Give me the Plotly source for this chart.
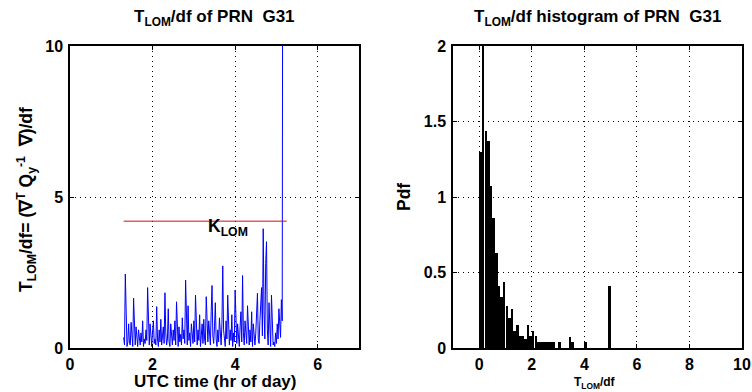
import plotly.graph_objects as go

# ---------------- data ----------------
t_start = 1.30          # hr, first epoch
t_step = 0.02           # hr between epochs
tlom_values = [
    0.35, 0.1, 2.45, 0.6, 0.05, 0.2, 0.8, 0.15, 0.1, 0.85,
    0.3, 0.05, 1.65, 0.4, 0.1, 0.7, 0.25, 0.05, 0.6, 0.15,
    0.1, 0.5, 0.2, 0.9, 0.05, 0.3, 0.15, 0.6, 0.25, 2.0,
    0.4, 0.1, 0.8, 0.2, 0.05, 0.55, 0.9, 0.15, 0.3, 0.1,
    1.37, 0.3, 0.05, 0.6, 0.2, 0.95, 0.1, 0.4, 0.7, 0.15,
    1.83, 0.5, 0.1, 0.3, 1.3, 0.2, 0.05, 0.8, 0.35, 0.1,
    0.6, 0.25, 0.9, 0.1, 1.53, 0.3, 0.05, 0.7, 0.2, 0.45,
    0.1, 1.0, 0.3, 0.6, 0.15, 2.25, 0.4, 0.1, 1.4, 0.25,
    0.5, 0.05, 0.8, 0.3, 0.15, 0.9, 0.2, 1.75, 0.45, 0.1,
    0.6, 0.25, 1.1, 0.05, 0.4, 0.8, 0.15, 0.95, 0.3, 0.1,
    1.7, 0.5, 0.2, 0.9, 0.35, 0.1, 1.2, 2.07, 0.4, 0.15,
    0.7, 1.5, 0.3, 0.05, 0.6, 0.2, 1.0, 0.45, 0.1, 0.8,
    2.72, 0.6, 0.2, 0.05, 0.9, 0.3, 1.75, 0.4, 0.1, 0.6,
    0.25, 1.1, 0.05, 0.5, 0.2, 1.92, 0.6, 0.15, 0.8, 0.3,
    0.05, 0.7, 1.2, 0.2, 2.4, 0.5, 0.1, 0.9, 0.3, 0.15,
    1.4, 0.4, 0.1, 0.6, 0.2, 1.2, 0.05, 0.8, 0.3, 0.1,
    0.5, 1.0, 1.81, 0.3, 0.15, 0.9, 1.3, 2.0, 0.4, 3.95,
    1.2, 0.3, 2.8, 3.52, 0.6, 0.1, 1.5, 0.3, 0.05, 1.75,
    0.4, 0.1, 0.2, 0.05, 0.5, 0.15, 0.8, 0.3, 1.3, 0.6,
    0.35, 1.6, 0.9,
]
t_jump = 5.15           # final epoch: test statistic blows up
tlom_jump = 12.0

k_lom = 4.2             # critical value
k_lom_span = [1.30, 5.25]

hist_centers = [0.05, 0.15, 0.25, 0.35, 0.45, 0.55, 0.65, 0.75, 0.85, 0.95,
                1.05, 1.15, 1.25, 1.35, 1.45, 1.55, 1.65, 1.75, 1.85, 1.95,
                2.05, 2.15, 2.25, 2.35, 2.45, 2.55, 2.65, 2.75, 2.85, 3.05,
                3.45, 3.55, 4.05, 4.95]
hist_pdf = [1.3, 2.5, 1.44, 1.37, 1.07, 0.86, 0.63, 0.41, 0.34, 0.44,
            0.28, 0.2, 0.26, 0.11, 0.15, 0.08, 0.08, 0.06, 0.15, 0.08,
            0.11, 0.08, 0.04, 0.04, 0.04, 0.04, 0.04, 0.04, 0.04, 0.04,
            0.075, 0.04, 0.04, 0.41]

time_x = [t_start + i * t_step for i in range(len(tlom_values))] + [t_jump]
tlom_y = tlom_values + [tlom_jump]

# ---------------- figure ----------------
W, H = 752, 392
FONT = "Liberation Sans, Arial, Helvetica, sans-serif"

def px(x):
    return x / W

def py(y):
    return 1 - y / H

fig = go.Figure()
fig.add_trace(go.Scatter(x=time_x, y=tlom_y, mode="lines",
                         line=dict(color="#0000ff", width=1),
                         xaxis="x", yaxis="y", showlegend=False))
fig.add_trace(go.Scatter(x=k_lom_span, y=[k_lom, k_lom], mode="lines",
                         line=dict(color="#d01010", width=1),
                         xaxis="x", yaxis="y", showlegend=False))
fig.add_trace(go.Bar(x=hist_centers, y=hist_pdf, width=0.095,
                     marker=dict(color="black", line=dict(width=0)),
                     xaxis="x2", yaxis="y2", showlegend=False))

axis_common = dict(showline=True, linecolor="black", linewidth=1.5, mirror="ticks",
                   ticks="inside", ticklen=4, tickcolor="black",
                   showgrid=True, gridcolor="black", gridwidth=1, griddash="1px,4px",
                   zeroline=False, automargin=False,
                   tickfont=dict(family=FONT, size=16, color="black", weight="bold"))

fig.update_layout(
    width=W, height=H, margin=dict(l=0, r=0, t=0, b=0, autoexpand=False),
    paper_bgcolor="white", plot_bgcolor="white",
    bargap=0,
    xaxis=dict(domain=[px(70), px(359)], range=[0, 7], tickvals=[0, 2, 4, 6],
               anchor="y", ticklabelstandoff=1, **axis_common),
    yaxis=dict(domain=[py(348), py(46)], range=[0, 10], tickvals=[0, 5, 10],
               anchor="x", ticklabelstandoff=2, **axis_common),
    xaxis2=dict(domain=[px(453), px(742)], range=[-1, 10], tickvals=[0, 2, 4, 6, 8, 10],
                anchor="y2", ticklabelstandoff=1, **axis_common),
    yaxis2=dict(domain=[py(348), py(46)], range=[0, 2], tickvals=[0, 0.5, 1, 1.5, 2],
                ticktext=["0", "0.5", "1", "1.5", "2"], anchor="x2", ticklabelstandoff=2,
                **axis_common),
)

def ann(text, x, y, size, angle=0, xanchor="center", yanchor="middle", xref="paper", yref="paper"):
    fig.add_annotation(text=text, x=x, y=y, xref=xref, yref=yref, showarrow=False,
                       textangle=angle, xanchor=xanchor, yanchor=yanchor, borderpad=0,
                       font=dict(family=FONT, size=size, color="black", weight="bold"))

ann("T<sub>LOM</sub>/df of PRN&nbsp; G31", px(214.5), py(18), 17)
ann("T<sub>LOM</sub>/df histogram of PRN&nbsp; G31", px(597.5), py(18), 17)
ann("UTC time (hr of day)", px(214.5), py(392), 17, yanchor="bottom")
ann("T<sub>LOM</sub>/df", px(595), py(392), 12, yanchor="bottom")
ann("T<sub>LOM</sub>/df= (∇<sup>T</sup> Q<sub>y</sub><sup>-1</sup>&nbsp; ∇)/df", px(26), py(200), 17.5, angle=-90)
ann("Pdf", px(404), py(197), 17.5, angle=-90)
ann("K<sub>LOM</sub>", 3.32, 4.0, 17.5, xanchor="left", xref="x", yref="y")

fig.write_html("out.html")
